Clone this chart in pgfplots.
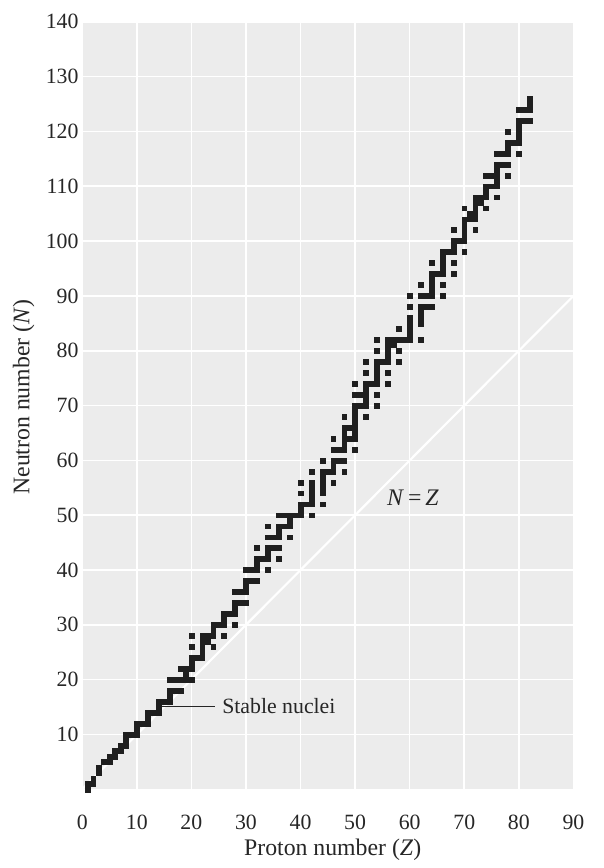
\documentclass[border=0pt]{standalone}
\usepackage{fontspec}
\setmainfont{Liberation Serif}
\usepackage{pgfplots}
\pgfplotsset{compat=1.18}
\definecolor{panel}{gray}{0.925}
\definecolor{ink}{gray}{0.15}

\begin{document}
\fontsize{11}{13}\selectfont
\begin{tikzpicture}
\begin{axis}[
    scale only axis,
    width=248pt, height=387.5pt,
    xmin=0, xmax=90, ymin=0, ymax=140,
    xtick={0,10,...,90},
    ytick={10,20,...,140},
    grid=major,
    major grid style={white, line width=0.8pt},
    axis background/.style={fill=panel},
    axis line style={draw=none},
    major tick length=0pt,
    tick label style={font=\fontsize{11}{13}\selectfont, text=ink},
    /pgf/number format/assume math mode=true,
    xticklabel style={yshift=-9pt},
    yticklabel style={xshift=2pt},
    xlabel={Proton number (\textit{Z})},
    ylabel={Neutron number (\textit{N})},
    label style={font=\fontsize{12}{14}\selectfont},
    xlabel style={at={(axis description cs:0.51,-0.079)}, anchor=center, text=ink},
    ylabel style={at={(axis description cs:-0.119,0.511)}, anchor=center, text=ink},
]
% N = Z line
\addplot[white, line width=1.1pt] coordinates {(0,0) (90,90)};

% stable nuclei (Z, N)
\addplot[only marks, mark=square*, mark size=1.22pt,
    mark options={fill=black!88, draw=black!88, line width=0.2pt}] coordinates {
(1,0) (1,1) (2,1) (2,2) (3,3) (3,4) (4,5) (5,5) (5,6) (6,6) (6,7) (7,7) (7,8)
(8,8) (8,9) (8,10) (9,10) (10,10) (10,11) (10,12) (11,12) (12,12) (12,13) (12,14)
(13,14) (14,14) (14,15) (14,16) (15,16) (16,16) (16,17) (16,18) (16,20)
(17,18) (17,20) (18,18) (18,20) (18,22) (19,20) (19,21) (19,22)
(20,20) (20,22) (20,23) (20,24) (20,26) (20,28) (21,24)
(22,24) (22,25) (22,26) (22,27) (22,28) (23,27) (23,28)
(24,26) (24,28) (24,29) (24,30) (25,30) (26,28) (26,30) (26,31) (26,32) (27,32)
(28,30) (28,32) (28,33) (28,34) (28,36) (29,34) (29,36)
(30,34) (30,36) (30,37) (30,38) (30,40) (31,38) (31,40)
(32,38) (32,40) (32,41) (32,42) (32,44) (33,42)
(34,40) (34,42) (34,43) (34,44) (34,46) (34,48) (35,44) (35,46)
(36,42) (36,44) (36,46) (36,47) (36,48) (36,50) (37,48) (37,50)
(38,46) (38,48) (38,49) (38,50) (39,50)
(40,50) (40,51) (40,52) (40,54) (40,56) (41,52)
(42,50) (42,52) (42,53) (42,54) (42,55) (42,56) (42,58)
(44,52) (44,54) (44,55) (44,56) (44,57) (44,58) (44,60) (45,58)
(46,56) (46,58) (46,59) (46,60) (46,62) (46,64) (47,60) (47,62)
(48,58) (48,60) (48,62) (48,63) (48,64) (48,65) (48,66) (48,68) (49,64) (49,66)
(50,62) (50,64) (50,65) (50,66) (50,67) (50,68) (50,69) (50,70) (50,72) (50,74)
(51,70) (51,72)
(52,68) (52,70) (52,71) (52,72) (52,73) (52,74) (52,76) (52,78) (53,74)
(54,70) (54,72) (54,74) (54,75) (54,76) (54,77) (54,78) (54,80) (54,82) (55,78)
(56,74) (56,76) (56,78) (56,79) (56,80) (56,81) (56,82) (57,81) (57,82)
(58,78) (58,80) (58,82) (58,84) (59,82)
(60,82) (60,83) (60,84) (60,85) (60,86) (60,88) (60,90)
(62,82) (62,85) (62,86) (62,87) (62,88) (62,90) (62,92) (63,88) (63,90)
(64,88) (64,90) (64,91) (64,92) (64,93) (64,94) (64,96) (65,94)
(66,90) (66,92) (66,94) (66,95) (66,96) (66,97) (66,98) (67,98)
(68,94) (68,96) (68,98) (68,99) (68,100) (68,102) (69,100)
(70,98) (70,100) (70,101) (70,102) (70,103) (70,104) (70,106) (71,104) (71,105)
(72,102) (72,104) (72,105) (72,106) (72,107) (72,108) (73,107) (73,108)
(74,106) (74,108) (74,109) (74,110) (74,112) (75,110) (75,112)
(76,108) (76,110) (76,111) (76,112) (76,113) (76,114) (76,116) (77,114) (77,116)
(78,112) (78,114) (78,116) (78,117) (78,118) (78,120) (79,118)
(80,116) (80,118) (80,119) (80,120) (80,121) (80,122) (80,124)
(81,122) (81,124) (82,122) (82,124) (82,125) (82,126)
};

\draw[ink, line width=0.5pt] (axis cs:14.5,15.2) -- (axis cs:24.3,15.2);
\node[anchor=west, text=ink, inner sep=0pt] at (axis cs:25.6,15.1) {Stable nuclei};
\node[text=ink, inner sep=0pt, font=\fontsize{12}{14}\selectfont] at (axis cs:60.6,53.1) {\textit{N}\,=\,\textit{Z}};
\end{axis}
\path ([shift={(-41.5pt,-35.5pt)}]current axis.south west) rectangle ++(304.5pt,434pt);
\end{tikzpicture}
\end{document}
